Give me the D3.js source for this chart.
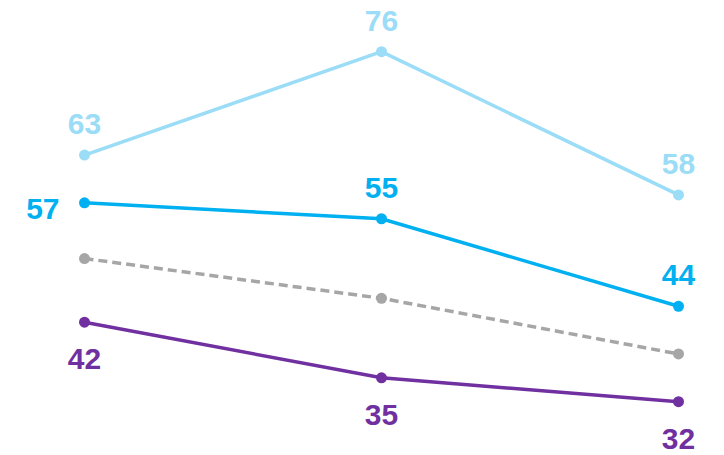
<!DOCTYPE html>
<html>
<head>
    <meta charset="utf-8">
    <title>Line Chart</title>
    <style type="text/css">
        body{ margin: 0; background: #fff; }
        svg{ display: block; }
        text{
            font-family: 'Liberation Sans', Arial, sans-serif;
            font-weight: bold;
            font-size: 30px;
        }
    </style>
</head>
<body>
<div id="chart"></div>

<script src="https://cdn.jsdelivr.net/npm/d3@7"></script>
<script>

// data
var periods    = ["1", "2", "3"];
var lightBlue  = [63, 76, 58];
var blue       = [57, 55, 44];
var grey       = [50, 45, 38];
var purple     = [42, 35, 32];

var series = [
    {name: "lightBlue", values: lightBlue, color: "#9BDCF7", dash: null,  label: "above"},
    {name: "blue",      values: blue,      color: "#00B0F0", dash: null,  label: "above", firstLeft: true},
    {name: "grey",      values: grey,      color: "#A6A6A6", dash: "9,5", label: null},
    {name: "purple",    values: purple,    color: "#7030A0", dash: null,  label: "below"}
];

var width  = 724,
    height = 455;

var svg = d3.select("#chart").append("svg")
    .attr("width", width)
    .attr("height", height);

var x = d3.scalePoint()
    .domain(periods)
    .range([84.5, 678.5]);

var y = d3.scaleLinear()
    .domain([32, 76])
    .range([401.7, 51.7]);

var line = d3.line()
    .x(function(d, i){ return x(periods[i]); })
    .y(function(d){ return y(d); });

var g = svg.selectAll("g.series")
    .data(series)
    .enter()
    .append("g")
    .attr("class", "series");

//lines
g.append("path")
    .attr("d", function(d){ return line(d.values); })
    .attr("fill", "none")
    .attr("stroke", function(d){ return d.color; })
    .attr("stroke-width", 3.5)
    .attr("stroke-dasharray", function(d){ return d.dash; });

//markers
g.selectAll("circle")
    .data(function(d){ return d.values.map(function(v, i){ return {v: v, i: i, s: d}; }); })
    .enter()
    .append("circle")
    .attr("cx", function(d){ return x(periods[d.i]); })
    .attr("cy", function(d){ return y(d.v); })
    .attr("r", 5.5)
    .attr("fill", function(d){ return d.s.color; });

//value labels
g.filter(function(d){ return d.label; })
    .selectAll("text")
    .data(function(d){ return d.values.map(function(v, i){ return {v: v, i: i, s: d}; }); })
    .enter()
    .append("text")
    .attr("fill", function(d){ return d.s.color; })
    .attr("text-anchor", function(d){ return (d.s.firstLeft && d.i == 0) ? "end" : "middle"; })
    .attr("x", function(d){
        var px = x(periods[d.i]);
        return (d.s.firstLeft && d.i == 0) ? px - 25 : px;
    })
    .attr("y", function(d){
        var py = y(d.v);
        if(d.s.firstLeft && d.i == 0) return py + 16;
        return d.s.label == "above" ? py - 21 : py + 47;
    })
    .text(function(d){ return d.v; });

</script>
</body>
</html>
